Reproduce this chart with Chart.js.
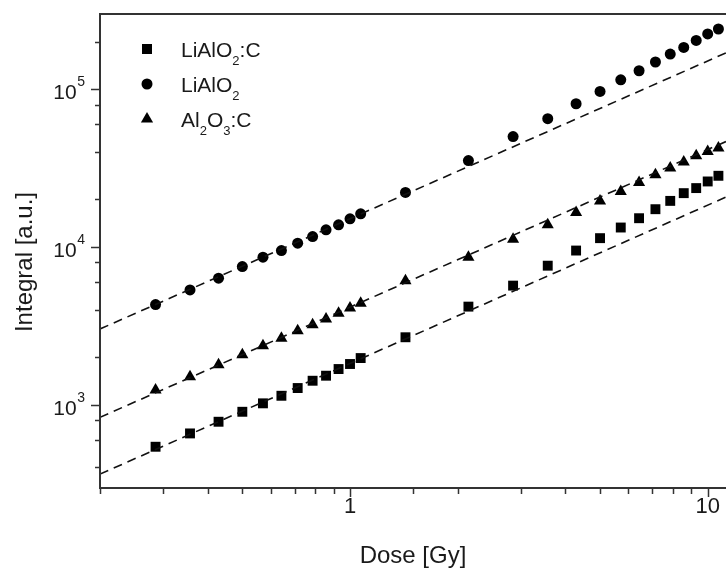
<!DOCTYPE html>
<html>
<head>
<meta charset="utf-8">
<script src="https://cdn.jsdelivr.net/npm/chart.js@4/dist/chart.umd.min.js"></script>
<style>
  html, body { margin: 0; padding: 0; background: #fff; }
  #wrap { width: 726px; height: 568px; }
</style>
</head>
<body>
<div id="wrap"><canvas id="doseChart" width="726" height="568"></canvas></div>
<script>
// Dose values (Gy), shared by all three samples
const doses = [0.286, 0.357, 0.429, 0.5, 0.571, 0.643, 0.714, 0.786, 0.857, 0.929, 1.0, 1.071,
  1.429, 2.143, 2.857, 3.571, 4.286, 5.0, 5.714, 6.429, 7.143, 7.857, 8.571, 9.286, 10.0, 10.714];

const liAlO2C = [540, 656, 778, 900, 1018, 1137, 1273, 1416, 1524, 1680, 1808, 1972,
  2672, 4180, 5680, 7600, 9480, 11360, 13270, 15200, 17340, 19580, 21920, 23600, 26000, 28250];
const liAlO2 = [4305, 5330, 6330, 7500, 8610, 9480, 10560, 11630, 12830, 13800, 15070, 16200,
  22150, 35300, 50100, 65000, 80900, 96900, 114800, 131000, 148800, 167200, 184000, 204000, 224300, 241000];
const al2O3C = [1236, 1502, 1790, 2072, 2361, 2631, 2942, 3213, 3493, 3796, 4102, 4394,
  6105, 8605, 11200, 13800, 16520, 19580, 22430, 25600, 28630, 31600, 34500, 37840, 40300, 42350];

// linear (slope 1) fits, read at the two edges of the plot
const fitDose = [0.2, 11.25];
const fitLiAlO2C = [362, 20700];
const fitLiAlO2 = [3015, 170000];
const fitAl2O3C = [830, 46600];

const xLabels = [1, 10];
const yLabels = [1e3, 1e4, 1e5];

const FONT = '"Liberation Sans", Arial, Helvetica, sans-serif';
const INK = "#1a1a1a";
const AXIS = "#333";

function points(xs, ys) {
  return xs.map((x, i) => ({ x, y: ys[i] }));
}

function drawMarker(ctx, style, x, y) {
  ctx.save();
  ctx.fillStyle = "#000";
  ctx.beginPath();
  if (style === "rect") {
    ctx.rect(x - 5, y - 5, 10, 10);
  } else if (style === "circle") {
    ctx.arc(x, y, 5.5, 0, Math.PI * 2);
  } else {
    ctx.moveTo(x, y - 7);
    ctx.lineTo(x + 6.1, y + 3.5);
    ctx.lineTo(x - 6.1, y + 3.5);
    ctx.closePath();
  }
  ctx.fill();
  ctx.restore();
}

// text pieces: [string, "sub" | "sup" | ""]
function drawRich(ctx, parts, x, baseline, size) {
  let cx = x;
  parts.forEach(([str, mode]) => {
    const s = mode ? Math.round(size * 0.62) : size;
    ctx.font = `${s}px ${FONT}`;
    const dy = mode === "sub" ? size * 0.36 : mode === "sup" ? -size * 0.62 : 0;
    ctx.fillText(str, cx, baseline + dy);
    cx += ctx.measureText(str).width;
  });
}

function isDecade(v) {
  const l = Math.log10(v);
  return Math.abs(l - Math.round(l)) < 1e-6;
}

const legendItems = [
  { style: "rect", parts: [["LiAlO", ""], ["2", "sub"], [":C", ""]] },
  { style: "circle", parts: [["LiAlO", ""], ["2", "sub"]] },
  { style: "triangle", parts: [["Al", ""], ["2", "sub"], ["O", ""], ["3", "sub"], [":C", ""]] },
];

const framePlugin = {
  id: "frame",
  afterDraw(chart) {
    const { ctx, chartArea: area, scales } = chart;
    const xs = scales.x;
    const ys = scales.y;
    ctx.save();

    // axis lines (left, bottom, top)
    ctx.strokeStyle = AXIS;
    ctx.lineWidth = 2;
    ctx.beginPath();
    ctx.moveTo(area.left, area.top);
    ctx.lineTo(area.left, area.bottom + 1);
    ctx.lineTo(area.right, area.bottom + 1);
    ctx.moveTo(area.left - 1, area.top);
    ctx.lineTo(area.right, area.top);
    ctx.stroke();

    // tick marks from the library's log ticks
    ctx.lineWidth = 1.5;
    ctx.beginPath();
    xs.ticks.forEach((t) => {
      if (t.value < xs.min || t.value > 10.5) return;
      const px = Math.round(xs.getPixelForValue(t.value)) + 0.5;
      const len = isDecade(t.value) ? 9 : 6;
      ctx.moveTo(px, area.bottom + 1);
      ctx.lineTo(px, area.bottom + 1 + len);
    });
    ys.ticks.forEach((t) => {
      if (t.value < ys.min || t.value > ys.max) return;
      const py = Math.round(ys.getPixelForValue(t.value)) + 0.5;
      const len = isDecade(t.value) ? 9 : 5;
      ctx.moveTo(area.left, py);
      ctx.lineTo(area.left - len, py);
    });
    ctx.stroke();

    ctx.fillStyle = INK;
    ctx.textBaseline = "alphabetic";

    // x tick labels
    ctx.font = `22px ${FONT}`;
    ctx.textAlign = "center";
    xLabels.forEach((v) => {
      ctx.fillText(String(v), xs.getPixelForValue(v), area.bottom + 26);
    });

    // y tick labels as 10^n
    ctx.textAlign = "left";
    yLabels.forEach((v) => {
      const py = ys.getPixelForValue(v);
      const exp = String(Math.round(Math.log10(v)));
      ctx.font = `14px ${FONT}`;
      const ew = ctx.measureText(exp).width;
      const expLeft = area.left - 15 - ew;
      ctx.fillText(exp, expLeft, py - 3);
      ctx.font = `21px ${FONT}`;
      const bw = ctx.measureText("10").width;
      ctx.fillText("10", expLeft - bw - 0.5, py + 10);
    });

    // axis titles
    ctx.font = `24px ${FONT}`;
    ctx.textAlign = "center";
    ctx.fillText("Dose [Gy]", (area.left + area.right) / 2, 563);
    ctx.save();
    ctx.translate(32, 262);
    ctx.rotate(-Math.PI / 2);
    ctx.fillText("Integral [a.u.]", 0, 0);
    ctx.restore();

    // legend
    ctx.textAlign = "left";
    legendItems.forEach((item, i) => {
      const cy = 49 + i * 35;
      drawMarker(ctx, item.style, 147, cy);
      ctx.fillStyle = INK;
      drawRich(ctx, item.parts, 181, cy + 8, 21);
    });

    ctx.restore();
  },
};

function markerSet(label, data, style, radius) {
  return {
    type: "scatter",
    label,
    data,
    pointStyle: style,
    pointRadius: radius,
    pointHoverRadius: radius,
    backgroundColor: "#000",
    borderColor: "#000",
    borderWidth: 0,
    showLine: false,
  };
}

function fitSet(label, data) {
  return {
    type: "line",
    label,
    data,
    borderColor: "#111",
    borderWidth: 1.6,
    borderDash: [9, 6],
    pointRadius: 0,
    fill: false,
    tension: 0,
  };
}

new Chart(document.getElementById("doseChart"), {
  type: "scatter",
  data: {
    datasets: [
      fitSet("fit LiAlO2:C", points(fitDose, fitLiAlO2C)),
      fitSet("fit LiAlO2", points(fitDose, fitLiAlO2)),
      fitSet("fit Al2O3:C", points(fitDose, fitAl2O3C)),
      markerSet("LiAlO2:C", points(doses, liAlO2C), "rect", 7),
      markerSet("LiAlO2", points(doses, liAlO2), "circle", 5.5),
      markerSet("Al2O3:C", points(doses, al2O3C), "triangle", 7),
    ],
  },
  options: {
    responsive: false,
    devicePixelRatio: 1,
    animation: false,
    layout: { autoPadding: false, padding: { left: 100, top: 14, right: 0, bottom: 81 } },
    scales: {
      x: { type: "logarithmic", min: 0.2, max: 11.25, display: false },
      y: { type: "logarithmic", min: 300, max: 300000, display: false },
    },
    plugins: {
      legend: { display: false },
      tooltip: { enabled: false },
    },
  },
  plugins: [framePlugin],
});
</script>
</body>
</html>
